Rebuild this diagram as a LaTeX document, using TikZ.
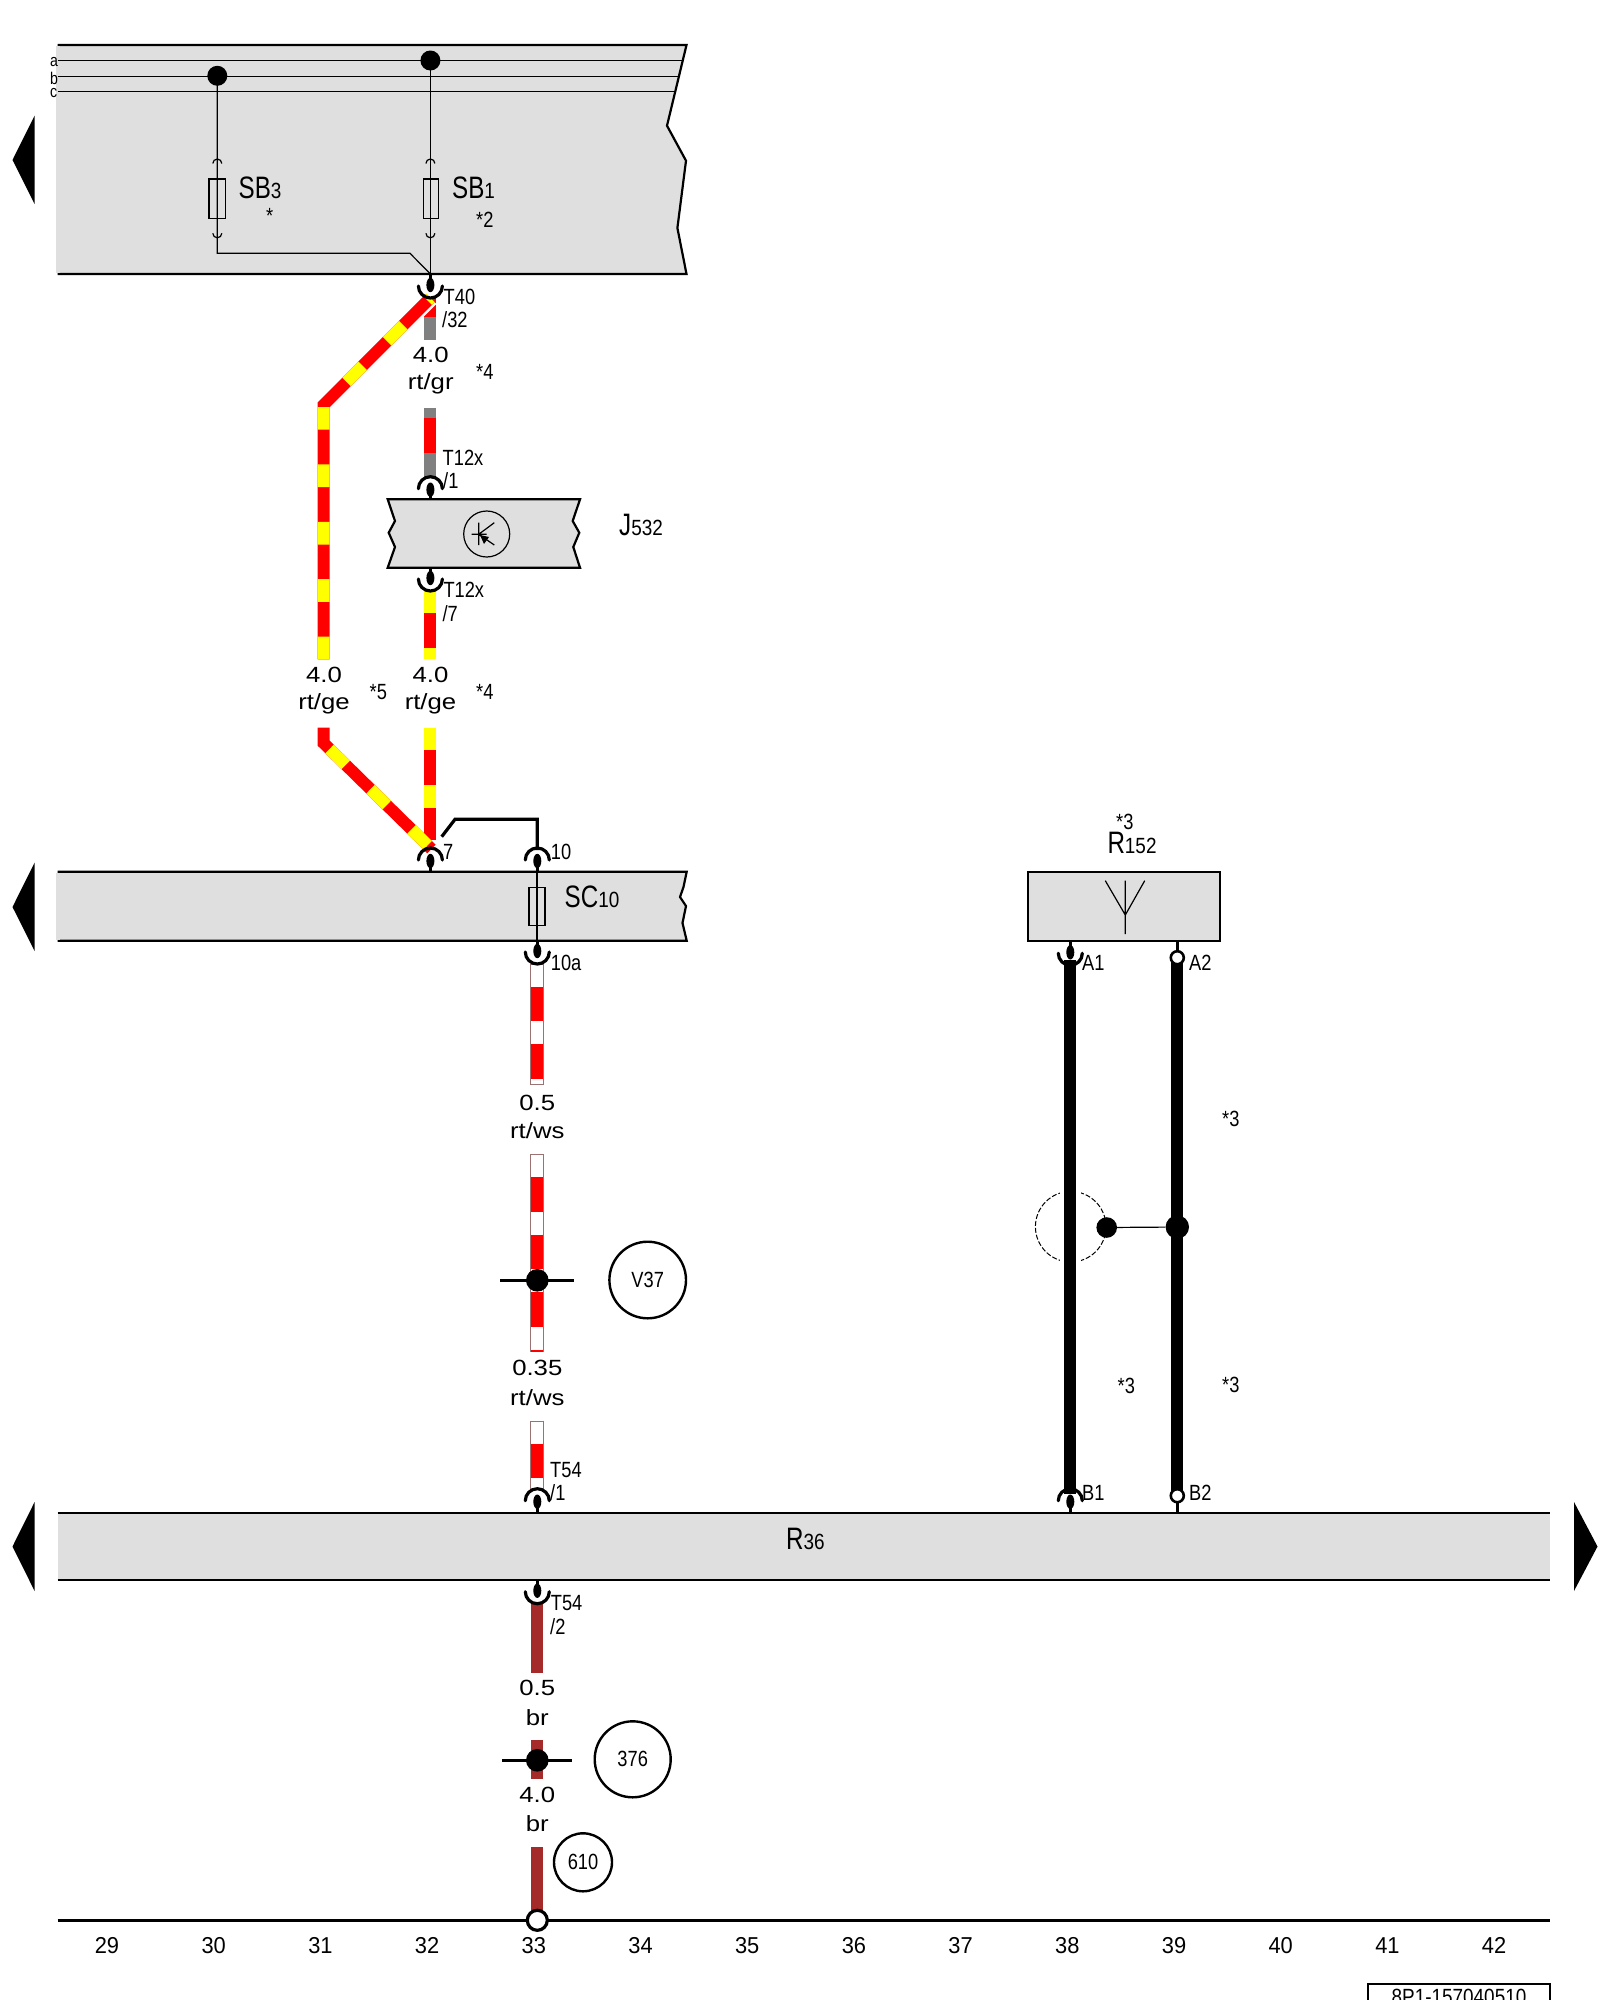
\documentclass[tikz,border=0pt]{standalone}
\usepackage{fontspec}
\usepackage{graphicx}
\setmainfont{Liberation Sans}
\definecolor{panelgray}{HTML}{DFDFDF}
\definecolor{wireyellow}{HTML}{FFFF00}
\definecolor{wirered}{HTML}{FF0000}
\definecolor{wiregray}{HTML}{808080}
\definecolor{wirebrown}{HTML}{A52A2A}
\definecolor{wireedge}{HTML}{9A7272}
\newcommand{\smalltxt}[1]{{\fontsize{22}{22}\selectfont\scalebox{.83}[1]{#1}}}
\newcommand{\wiretxt}[1]{{\fontsize{22}{22}\selectfont\scalebox{1.17}[1]{#1}}}
\newcommand{\mainsub}[2]{{\fontsize{31}{31}\selectfont\scalebox{.78}[1]{#1}}{\fontsize{22}{22}\selectfont\scalebox{.86}[1]{#2}}}
\newcommand{\stripewire}[3]{%
  \draw[wired,line width=14pt,draw=wireedge] (#1) -- (#2);
  \draw[wired,draw=white,shorten <=1pt,shorten >=1pt] (#1) -- (#2);
  \draw[wired,draw=wirered,redstripe,dash phase=#3] (#1) -- (#2);}
% connector symbols: arc above the pin (conup) or below it (condown)
\newcommand{\conup}[3]{\coordinate (#1) at (#2,#3);
  \draw[conarc] (#2-12,#3) arc (180:360:12);
  \fill (#2,#3+1) ellipse [x radius=4,y radius=7.2];}
\newcommand{\condown}[3]{\coordinate (#1) at (#2,#3);
  \draw[conarc] (#2-12,#3) arc (180:0:12);
  \fill (#2,#3-1) ellipse [x radius=4,y radius=7.2];}
\tikzset{
  wired/.style={line width=12pt,line cap=butt,line join=miter},
  yelstripe/.style={dash pattern=on 22.7pt off 34.7pt},
  redstripe/.style={dash pattern=on 34.4pt off 23pt},
  panel/.style={draw=black,fill=panelgray,line width=2.2pt,line join=miter},
  thinw/.style={line width=1.2pt},
  conarc/.style={line width=3.2pt,line cap=round},
  stem/.style={line width=2.6pt},
  lblw/.style={anchor=west,inner sep=0pt,font=\fontsize{22}{22}\selectfont},
  lblc/.style={anchor=center,inner sep=0pt,font=\fontsize{22}{22}\selectfont},
  lblwire/.style={anchor=center,inner sep=0pt},
  ring/.style={circle,draw=black,line width=2.4pt,fill=white,inner sep=0pt,minimum size=#1},
  dotblack/.style={circle,fill=black,inner sep=0pt,minimum size=#1},
  openpin/.style={circle,draw=black,line width=2.6pt,fill=white,inner sep=0pt,minimum size=#1},
  sidearrow/.style={fill=black},
  crossbar/.style={line width=2.8pt},
}
\begin{document}
\begin{tikzpicture}[x=1pt,y=-1pt]
\useasboundingbox (0,0) rectangle (1600,2000);
\clip (0,0) rectangle (1600,2000);
\fill[white] (0,0) rectangle (1600,2000);

% ---- panels
\filldraw[panel] (57.5,45) -- (686.5,45) -- (667,125.7) -- (686,160.7) -- (677.4,228) -- (686.5,274) -- (57.5,274);
\fill[panelgray] (56.4,46) rectangle (60,273);
\filldraw[panel] (57.5,871.7) -- (686.7,871.7) -- (683.5,887) -- (680,897) -- (686,906) -- (682.5,923) -- (686.7,940.7) -- (57.5,940.7);
\fill[panelgray] (56.4,873) rectangle (60,939.6);
\fill[panelgray] (57.5,1513.8) rectangle (1550,1578.9);
\draw[line width=2.2pt] (57.5,1512.7) -- (1550,1512.7) (57.5,1580) -- (1550,1580);
\filldraw[panel] (387.7,499.3) -- (580,499.3) -- (572.7,521) -- (579.3,532.7) -- (573.3,547) -- (580,567.7) -- (387.7,567.7) -- (395,547) -- (388.7,532.7) -- (395,521) -- cycle;
\filldraw[panel] (1028.3,872.3) rectangle (1219.7,940.7);

% ---- side arrows
\fill[sidearrow] (12.5,160) -- (34.6,115.7) -- (34.6,204) -- cycle;
\fill[sidearrow] (12.5,907) -- (34.6,862.7) -- (34.6,951) -- cycle;
\fill[sidearrow] (12.5,1546.5) -- (34.6,1502) -- (34.6,1591) -- cycle;
\fill[sidearrow] (1597.5,1546.5) -- (1574,1502) -- (1574,1591) -- cycle;

% ---- bus bars
\coordinate (busaL) at (57.5,60.3);  \coordinate (busaR) at (682.4,60.3);
\coordinate (busbL) at (57.5,76.3);  \coordinate (busbR) at (679,76.3);
\coordinate (buscL) at (57.5,91.3);  \coordinate (buscR) at (675.6,91.3);
\draw[thinw] (busaL) -- (busaR) (busbL) -- (busbR) (buscL) -- (buscR);
\node[lblw,font=\fontsize{17}{17}\selectfont] (la) at (50,62) {\scalebox{.83}[1]{a}};
\node[lblw,font=\fontsize{17}{17}\selectfont] (lb) at (50,78) {\scalebox{.83}[1]{b}};
\node[lblw,font=\fontsize{17}{17}\selectfont] (lc) at (50,93) {\scalebox{.83}[1]{c}};

% ---- fuses SB3, SB1
\node[dotblack=20pt] (dsb3) at (217.3,75.8) {};
\node[dotblack=20pt] (dsb1) at (430.4,60.5) {};
\coordinate (sb3bend) at (217.3,253.3);
\coordinate (sb3knee) at (410,253.3);
\coordinate (t40in) at (430.4,274);
\draw[thinw] (dsb3.center) -- (sb3bend) -- (sb3knee) -- (t40in);
\draw[thinw] (dsb1.center) -- (t40in);
\draw[thinw,fill=none] (209,179) rectangle (225.7,218.7);
\draw[thinw,fill=none] (423.3,179) rectangle (438.7,218.7);
\draw[thinw] (212.8,163.5) arc (180:360:4.5) (425.9,163.5) arc (180:360:4.5);
\draw[thinw] (212.8,233.3) arc (180:0:4.5) (425.9,233.3) arc (180:0:4.5);
\node[lblw] (sb3) at (238.5,187.7) {\mainsub{SB}{3}};
\node[lblw] (sb1) at (452,187.7) {\mainsub{SB}{1}};
\node[lblw] (sb3s) at (266,216) {\smalltxt{*}};
\node[lblw] (sb1s) at (476,220) {\smalltxt{*2}};

% ---- rt/gr wire T40 to T12x
\coordinate (grA) at (430.4,298);
\coordinate (grB) at (430.4,340);
\coordinate (grC) at (430.4,407.7);
\coordinate (grD) at (430.4,476.7);
\draw[wired,draw=wiregray] (grA) -- (grB);
\draw[wired,draw=wirered] (430.4,298) -- (430.4,316.7);
\draw[wired,draw=wiregray] (grC) -- (grD);
\draw[wired,draw=wirered] (430.4,418) -- (430.4,453);

% ---- rt/ge long wire (left) upper part
\coordinate (geA) at (323.5,659.3);
\coordinate (geB) at (323.5,405);
\coordinate (geC) at (430.4,298);
\draw[line width=17pt,white,line cap=butt,line join=miter] (geB) -- (geC);
\draw[wired,draw=wirered] (geA) -- (geB) -- (geC);
\draw[wired,draw=wireyellow,yelstripe] (geA) -- (geB) -- (geC);

% ---- rt/ge wire below J532
\coordinate (hgA) at (430.4,591);
\coordinate (hgB) at (430.4,659.3);
\draw[wired,draw=wireyellow] (hgA) -- (hgB);
\draw[wired,draw=wirered] (430.4,613.3) -- (430.4,647.7);

% ---- rt/ge lower part
\coordinate (lvA) at (430.4,727.7);
\coordinate (lvB) at (430.4,840);
\draw[wired,draw=wirered] (lvA) -- (lvB);
\draw[wired,draw=wireyellow,yelstripe] (lvA) -- (lvB);
\coordinate (ldA) at (323.5,727.7);
\coordinate (ldB) at (323.5,743);
\coordinate (ldC) at (431.5,849);
\draw[wired,draw=wirered] (ldA) -- (ldB) -- (ldC);
\draw[wired,draw=wireyellow,dash pattern=on 22.7pt off 34.7pt,dash phase=33.6pt] (ldA) -- (ldB) -- (ldC);

% ---- black jumper
\coordinate (jmA) at (441.7,836.7);
\coordinate (jmB) at (455,819.3);
\coordinate (jmC) at (537.3,819.3);
\coordinate (jmD) at (537.3,850);
\draw[line width=3.2pt,line join=miter] (jmA) -- (jmB) -- (jmC) -- (jmD);

% ---- SC10 fuse line
\coordinate (scA) at (537.3,860);
\coordinate (scB) at (537.3,952);
\draw[line width=2pt] (scA) -- (scB);
\draw[line width=1.4pt] (529,887.3) rectangle (545,925.7);

% ---- rt/ws wires
\coordinate (wsA) at (537.3,964);
\coordinate (wsB) at (537.3,1085);
\stripewire{wsA}{wsB}{34.4pt}
\coordinate (wsC) at (537.3,1154.3);
\coordinate (wsD) at (537.3,1352.3);
\stripewire{wsC}{wsD}{34.4pt}
\coordinate (wsE) at (537.3,1420.7);
\coordinate (wsF) at (537.3,1490);
\stripewire{wsE}{wsF}{34.4pt}

% ---- brown wires
\coordinate (brA) at (537.3,1603);
\coordinate (brB) at (537.3,1672.7);
\coordinate (brC) at (537.3,1740);
\coordinate (brD) at (537.3,1779);
\coordinate (brE) at (537.3,1847.3);
\coordinate (brF) at (537.3,1912);
\draw[wired,draw=wirebrown] (brA) -- (brB);
\draw[wired,draw=wirebrown] (brC) -- (brD);
\draw[wired,draw=wirebrown] (brE) -- (brF);

% ---- connectors with pins
\condown{c40}{430.4}{286}
\draw[stem] (430.4,274) -- (c40);
\conup{c12a}{430.4}{488.7}
\draw[stem] (c12a) -- (430.4,499.3);
\condown{c12b}{430.4}{579}
\draw[stem] (430.4,567.7) -- (c12b);
\conup{c7}{430.4}{860}
\draw[stem] (c7) -- (430.4,871.7);
\conup{c10}{537.3}{860}
\draw[stem] (c10) -- (537.3,871.7);
\condown{c10a}{537.3}{952}
\draw[stem] (537.3,940.7) -- (c10a);
\conup{c54a}{537.3}{1500.7}
\draw[stem] (c54a) -- (537.3,1512.7);
\condown{c54b}{537.3}{1591.7}
\draw[stem] (537.3,1580) -- (c54b);

% ---- R152 and its black wires
\coordinate (anT) at (1125.3,880.7);
\coordinate (anM) at (1125.3,915);
\coordinate (anB) at (1125.3,934);
\coordinate (anL) at (1105.3,880.7);
\coordinate (anR) at (1144.7,880.7);
\draw[thinw] (anT) -- (anB) (anL) -- (anM) -- (anR);
\coordinate (a1w) at (1070.3,960);
\coordinate (b1w) at (1070.3,1494);
\coordinate (a2w) at (1177.3,958);
\coordinate (b2w) at (1177.3,1495);
\node[circle,draw=black,line width=1pt,inner sep=0pt,minimum size=70.6pt,dash pattern=on 5pt off 2pt] (shield) at (1070.7,1226.7) {};
\draw[line width=21pt,white] (1070.3,1180) -- (1070.3,1273);
\draw[wired,draw=black] (a1w) -- (b1w);
\draw[wired,draw=black] (a2w) -- (b2w);
\draw[line width=12pt,white] (1070.3,960) -- (1070.3,956);
\condown{ca1}{1070.3}{953.3}
\draw[stem] (1070.3,940.7) -- (ca1);
\conup{cb1}{1070.3}{1500.7}
\draw[stem] (cb1) -- (1070.3,1512.7);
\coordinate (a2s) at (1177.3,940.7);
\coordinate (b2s) at (1177.3,1512.7);
\draw[stem] (a2s) -- (1177.3,957.7);
\draw[stem] (1177.3,1495.7) -- (b2s);
\node[openpin=13pt] (pa2) at (1177.3,957.7) {};
\node[openpin=13pt] (pb2) at (1177.3,1495.7) {};
\node[dotblack=20.6pt] (dsh) at (1106.7,1227.5) {};
\node[dotblack=23.4pt] (dw2) at (1177.3,1227) {};
\draw[thinw] (dsh) -- (dw2);

% ---- splice crosses
\node[dotblack=22.6pt] (dv37) at (537.3,1280.3) {};
\coordinate (v37L) at (500,1280.3);
\coordinate (v37R) at (574,1280.3);
\draw[crossbar] (v37L) -- (v37R);
\node[dotblack=22.6pt] (d376) at (537.3,1760.3) {};
\coordinate (c376L) at (502.3,1760.3);
\coordinate (c376R) at (571.7,1760.3);
\draw[crossbar] (c376L) -- (c376R);
\node[ring=76.6pt] (rv37) at (647.7,1280) {\smalltxt{V37}};
\node[ring=76pt] (r376) at (632.7,1759.3) {\smalltxt{376}};
\node[ring=58pt] (r610) at (583,1862.3) {\smalltxt{610}};

% ---- J532 symbol
\node[circle,draw=black,line width=1.2pt,inner sep=0pt,minimum size=46pt] (jsym) at (486.7,534) {};
\coordinate (jc) at (478.7,534.3);
\coordinate (jv1) at (478.7,522.7);
\coordinate (jv2) at (478.7,545);
\coordinate (jh1) at (471.7,534.3);
\coordinate (jh2) at (486.7,534.3);
\coordinate (jd1) at (494.3,522.7);
\coordinate (jd2) at (494.3,545);
\draw[thinw] (jv1) -- (jv2) (jh1) -- (jh2) (jc) -- (jd1) (jc) -- (jd2);
\fill (480,535) -- (489,537) -- (484,544) -- cycle;

% ---- axis
\coordinate (axL) at (57.5,1920.3);
\coordinate (axR) at (1550,1920.3);
\draw[line width=2.4pt] (axL) -- (axR);
\draw[wired,draw=wirebrown] (brE) -- (brF);
\node[circle,draw=black,line width=3.2pt,fill=white,inner sep=0pt,minimum size=20pt] (gnd) at (537.3,1920.3) {};
\foreach \n [count=\i from 0] in {29,30,31,32,33,34,35,36,37,38,39,40,41,42}
  \node[lblc,font=\fontsize{23}{23}\selectfont] (ax\n) at (107+106.7*\i,1945.7) {\scalebox{.95}[1]{\n}};

% ---- stamp
\coordinate (stL) at (1368,2006);
\coordinate (stR) at (1550,1984);
\draw[line width=2pt] (stL) rectangle (stR);
\node[lblc] (stamp) at (1459,1996.5) {\scalebox{.86}[1]{8P1-157040510}};

% ---- labels on connectors
\node[lblw] (lt40) at (443.5,296.7) {\smalltxt{T40}};
\node[lblw] (l32) at (442,320) {\smalltxt{/32}};
\node[lblw] (lt12a) at (442.5,457.7) {\smalltxt{T12x}};
\node[lblw] (l1a) at (443,480.7) {\smalltxt{/1}};
\node[lblw] (lj532) at (619,525) {\mainsub{J}{532}};
\node[lblw] (lt12b) at (443.3,590) {\smalltxt{T12x}};
\node[lblw] (l7b) at (442.3,613.3) {\smalltxt{/7}};
\node[lblw] (l7) at (443,852) {\smalltxt{7}};
\node[lblw] (l10) at (550.7,852) {\smalltxt{10}};
\node[lblw] (l10a) at (550.7,963) {\smalltxt{10a}};
\node[lblw] (lsc) at (564.5,897) {\mainsub{SC}{10}};
\node[lblw] (lt54a) at (550,1470) {\smalltxt{T54}};
\node[lblw] (l1b) at (550,1493) {\smalltxt{/1}};
\node[lblw] (lt54b) at (550.7,1603) {\smalltxt{T54}};
\node[lblw] (l2b) at (550,1626.7) {\smalltxt{/2}};
\node[lblw] (lr36) at (786,1539) {\mainsub{R}{36}};
\node[lblw] (lr152) at (1107.3,843.3) {\mainsub{R}{152}};
\node[lblw] (ls3a) at (1116,822) {\smalltxt{*3}};
\node[lblw] (la1) at (1082,963.3) {\smalltxt{A1}};
\node[lblw] (la2) at (1189,963.3) {\smalltxt{A2}};
\node[lblw] (lb1) at (1082,1492.7) {\smalltxt{B1}};
\node[lblw] (lb2) at (1189,1492.7) {\smalltxt{B2}};
\node[lblw] (ls3b) at (1222,1119) {\smalltxt{*3}};
\node[lblw] (ls3c) at (1117.5,1386) {\smalltxt{*3}};
\node[lblw] (ls3d) at (1222,1385) {\smalltxt{*3}};

% ---- wire labels
\node[lblwire] (t1) at (430.7,355) {\wiretxt{4.0}};
\node[lblwire] (t2) at (430.7,383.5) {\wiretxt{rt/gr}};
\node[lblw] (s4a) at (476,371.7) {\smalltxt{*4}};
\node[lblwire] (t3) at (324,675) {\wiretxt{4.0}};
\node[lblwire] (t4) at (324,703.5) {\wiretxt{rt/ge}};
\node[lblw] (s5) at (369.5,691.7) {\smalltxt{*5}};
\node[lblwire] (t5) at (430.5,675) {\wiretxt{4.0}};
\node[lblwire] (t6) at (430.5,703.5) {\wiretxt{rt/ge}};
\node[lblw] (s4b) at (476,691.7) {\smalltxt{*4}};
\node[lblwire] (t7) at (537.3,1102.7) {\wiretxt{0.5}};
\node[lblwire] (t8) at (537.3,1130.7) {\wiretxt{rt/ws}};
\node[lblwire] (t9) at (537.3,1368.3) {\wiretxt{0.35}};
\node[lblwire] (t10) at (537.3,1397.3) {\wiretxt{rt/ws}};
\node[lblwire] (t11) at (537.3,1688) {\wiretxt{0.5}};
\node[lblwire] (t12) at (537.3,1717.5) {\wiretxt{br}};
\node[lblwire] (t13) at (537.3,1795) {\wiretxt{4.0}};
\node[lblwire] (t14) at (537.3,1823.5) {\wiretxt{br}};
\end{tikzpicture}
\end{document}
